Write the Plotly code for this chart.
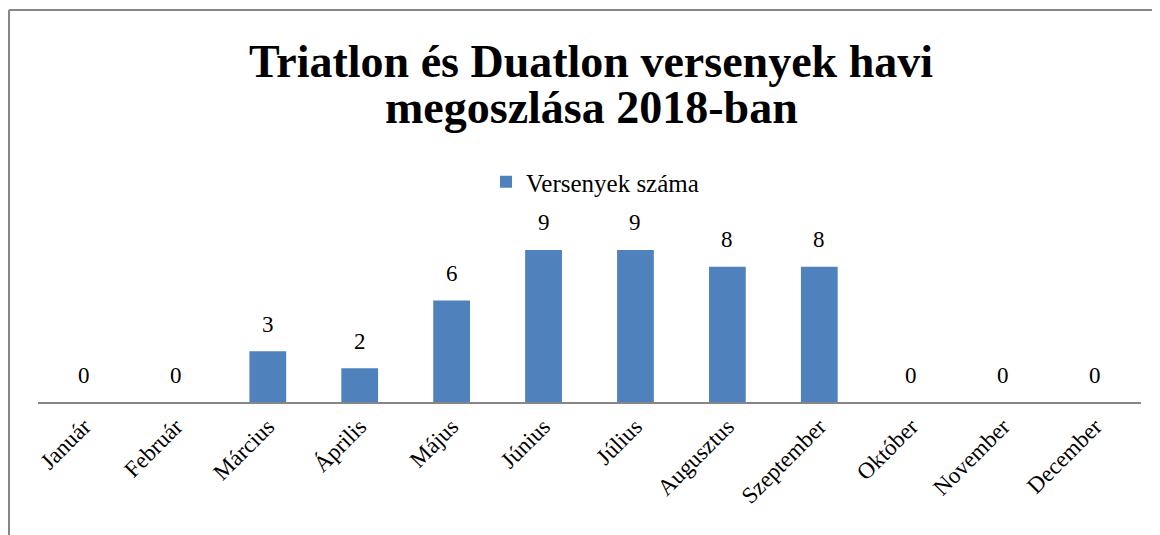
import plotly.graph_objects as go

months = ["Január", "Február", "Március", "Április", "Május", "Június",
          "Július", "Augusztus", "Szeptember", "Október", "November", "December"]
counts = [0, 0, 3, 2, 6, 9, 9, 8, 8, 0, 0, 0]
series_name = "Versenyek száma"
title_lines = ["Triatlon és Duatlon versenyek havi", "megoszlása 2018-ban"]

# page body has an 8px default margin; compensate so the picture lines up
OFF = 8
W, H = 1160 - OFF, 535 - OFF
FONT = "Liberation Serif"
BAR = "#4F81BD"


def px(x):
    return (x - OFF) / W


def py(y):
    return 1 - (y - OFF) / H


fig = go.Figure()
fig.add_trace(go.Bar(x=months, y=counts, name=series_name,
                     marker=dict(color=BAR, line=dict(width=0))))

ann = [dict(x=m, y=v, text=str(v), showarrow=False, yshift=27,
            font=dict(family=FONT, size=23, color="#000"))
       for m, v in zip(months, counts)]

for i, line in enumerate(title_lines):
    ann.append(dict(xref="paper", yref="paper", x=px(591), y=py(62 + 46 * i),
                    xanchor="center", yanchor="middle", showarrow=False,
                    text="<b>" + line + "</b>",
                    font=dict(family=FONT, size=46, color="#000")))

fig.update_layout(
    width=W, height=H,
    margin=dict(l=0, r=0, t=0, b=0),
    paper_bgcolor="white", plot_bgcolor="white",
    bargap=0.6,
    showlegend=True,
    legend=dict(x=px(595), xanchor="center", y=py(182), yanchor="middle",
                orientation="h", font=dict(family=FONT, size=25, color="#000"),
                bgcolor="rgba(0,0,0,0)", itemwidth=30),
    xaxis=dict(domain=[px(38), px(1141)], showline=True, linecolor="#868686",
               linewidth=2, ticks="", tickangle=-45, showgrid=False,
               tickfont=dict(family=FONT, size=23, color="#000"), automargin=False),
    yaxis=dict(domain=[py(402), py(233)], range=[0, 10], visible=False,
               showgrid=False, zeroline=False),
    annotations=ann,
    shapes=[
        dict(type="line", xref="paper", yref="paper", x0=px(9), x1=px(9),
             y0=0, y1=py(10), line=dict(color="#868686", width=2)),
        dict(type="line", xref="paper", yref="paper", x0=px(9), x1=1,
             y0=py(10), y1=py(10), line=dict(color="#868686", width=2)),
    ],
)

fig.write_html("out.html")
